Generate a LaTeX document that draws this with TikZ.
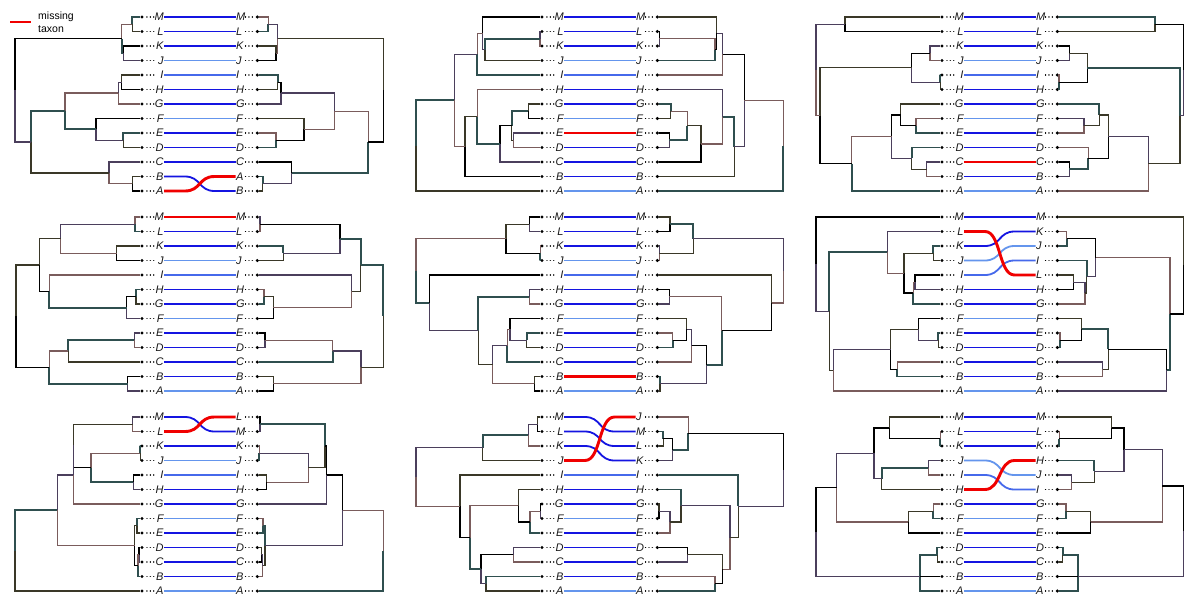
\documentclass[tikz,border=0pt]{standalone}
\usepackage{fontspec}
\setsansfont{Liberation Sans}
\usepackage{tikz}
\usetikzlibrary{calc}
\definecolor{slateDark}{RGB}{47,79,79}
\definecolor{rosyDark}{RGB}{122,92,92}
\definecolor{plumDark}{RGB}{75,63,92}
\definecolor{oliveDark}{RGB}{58,56,40}
\definecolor{linkBlue}{RGB}{20,20,225}
\definecolor{linkCorn}{RGB}{100,149,237}
\definecolor{linkMid}{RGB}{70,105,235}
\definecolor{missRed}{RGB}{240,0,0}
\colorlet{lnkM}{linkBlue}\colorlet{lnkL}{linkBlue}\colorlet{lnkK}{linkBlue}
\colorlet{lnkJ}{linkCorn}\colorlet{lnkI}{linkMid}\colorlet{lnkH}{linkBlue}
\colorlet{lnkG}{linkBlue}\colorlet{lnkF}{linkCorn}\colorlet{lnkE}{linkBlue}
\colorlet{lnkD}{linkBlue}\colorlet{lnkC}{linkBlue}\colorlet{lnkB}{linkBlue}
\colorlet{lnkA}{linkCorn}

\newcount\brc
% one bifurcation: name, x, first child, second child
\newcommand\cl[4]{%
  \path (\ox+#2,0) coordinate (tmpx) ($(\pp#3)!.5!(\pp#4)$) coordinate (tmpm);
  \coordinate (\pp#1) at (tmpx |- tmpm);
  \pgfmathtruncatemacro\bca{mod(\the\brc,5)}%
  \pgfmathtruncatemacro\bcb{mod(\the\brc+3,5)}%
  \global\advance\brc by 1
  \draw[br\bca] (\pp#3) -| (\pp#1);
  \draw[br\bcb] (\pp#1) |- (\pp#4);
}
% three children
\newcommand\clt[5]{%
  \path (\ox+#2,0) coordinate (tmpx) (\pp#4) coordinate (tmpb);
  \coordinate (\pp#1) at (tmpx |- tmpb);
  \draw[br0] (\pp#3) -| (\pp#1) |- (\pp#5);
  \draw[br1] (\pp#1) -- (\pp#4);
}
\newcommand\lnk[2]{%
  \draw[#2] (\pp lt#1.east) -- ++(21,0) .. controls +(16,0) and +(-16,0)
    .. ([xshift=-21pt]\pp rt#1.west) -- (\pp rt#1.west);
}
% prefix, x offset, y offset, right order, missing taxon
\newcommand\panel[5]{%
  \def\pp{#1}\def\ox{#2}\def\oy{#3}\def\miss{#5}%
  \foreach \t [count=\k from 0] in {M,L,K,J,I,H,G,F,E,D,C,B,A}{
    \node[leaf] (\pp l\t) at (\ox+142,\oy+17+14.5*\k) {};
    \node[taxl,align=right,anchor=east] (\pp lt\t) at (\ox+164,\oy+17+14.5*\k) {\t};
    \draw[tipdots] (\pp l\t) -- (\pp lt\t);
  }
  \foreach \t [count=\k from 0] in {#4}{
    \node[leaf] (\pp r\t) at (\ox+257.3,\oy+17+14.5*\k) {};
    \node[taxl,align=left,anchor=west] (\pp rt\t) at (\ox+235.5,\oy+17+14.5*\k) {\t};
    \draw[tipdots] (\pp r\t) -- (\pp rt\t);
  }
  \foreach \t in {M,L,K,J,I,H,G,F,E,D,C,B,A}{
    \ifx\t\miss\else\lnk{\t}{link,draw=lnk\t}\fi
  }
  \lnk{#5}{miss}
}

\begin{document}
\begin{tikzpicture}[x=1pt,y=-1pt,
  leaf/.style={circle,fill=black,inner sep=0pt,minimum size=3.4pt},
  taxl/.style={font=\sffamily\itshape\fontsize{11}{13}\selectfont,text=black!90,
               inner sep=0.3pt,text width=9pt,text height=7.9pt,text depth=0pt},
  tipdots/.style={line cap=round,dash pattern=on 0.1pt off 3.3pt,dash phase=0.4pt,line width=1.3pt},
  link/.style={line width=1.8pt},
  miss/.style={line width=2.9pt,draw=missRed},
  br0/.style={line width=1.8pt,draw=slateDark},
  br1/.style={line width=1.3pt,draw=black},
  br2/.style={line width=1.3pt,draw=rosyDark},
  br3/.style={line width=1.3pt,draw=oliveDark},
  br4/.style={line width=1.3pt,draw=plumDark},
  legtext/.style={font=\sffamily\fontsize{10.5}{13}\selectfont,align=left,inner sep=0pt}
]
  \path[use as bounding box,fill=white] (0,0) rectangle (1200,600);

  \coordinate (legA) at (10,22);
  \coordinate (legB) at (31,22);
  \draw[miss] (legA) -- (legB);
  \node[legtext,anchor=west] (leg) at (38,22.5) {missing\\taxon};

  % panel 1
  \panel{p1}{0}{0}{M,L,K,J,I,H,G,F,E,D,C,A,B}{A}
  \cl{lML}{132.3}{lM}{lL}
  \cl{lKJ}{123.3}{lK}{lJ}
  \cl{lMJ}{121.7}{lML}{lKJ}
  \cl{lIH}{121.7}{lI}{lH}
  \cl{lIG}{118.3}{lIH}{lG}
  \cl{lED}{123.3}{lE}{lD}
  \cl{lFD}{96}{lF}{lED}
  \cl{lID}{65}{lIG}{lFD}
  \cl{lBA}{132.3}{lB}{lA}
  \cl{lCA}{109}{lC}{lBA}
  \cl{lIA}{31}{lID}{lCA}
  \cl{lroot}{15}{lMJ}{lIA}
  \cl{rML}{268.3}{rM}{rL}
  \cl{rKJ}{276}{rK}{rJ}
  \cl{rMJ}{277.7}{rML}{rKJ}
  \cl{rIH}{277.7}{rI}{rH}
  \cl{rIG}{281}{rIH}{rG}
  \cl{rED}{276}{rE}{rD}
  \cl{rFD}{304}{rF}{rED}
  \cl{rID}{334.3}{rIG}{rFD}
  \cl{rAB}{262.7}{rA}{rB}
  \cl{rCB}{291.7}{rC}{rAB}
  \cl{rIB}{368.3}{rID}{rCB}
  \cl{rroot}{383.3}{rMJ}{rIB}

  % panel 2
  \panel{p2}{400}{0}{M,L,K,J,I,H,G,F,E,D,C,B,A}{E}
  \cl{lLK}{140}{lL}{lK}
  \cl{lLJ}{85}{lLK}{lJ}
  \cl{lMJ}{82.7}{lM}{lLJ}
  \cl{lMI}{77.3}{lMJ}{lI}
  \cl{lGF}{128.3}{lG}{lF}
  \cl{lED}{113.3}{lE}{lD}
  \cl{lGD}{111.7}{lGF}{lED}
  \cl{lGC}{100}{lGD}{lC}
  \cl{lHC}{77.3}{lH}{lGC}
  \cl{lHB}{65}{lHC}{lB}
  \cl{lMB}{54.3}{lMI}{lHB}
  \cl{lroot}{16}{lMB}{lA}
  \cl{rLK}{259.3}{rL}{rK}
  \cl{rLJ}{315}{rLK}{rJ}
  \cl{rMJ}{316.7}{rM}{rLJ}
  \cl{rMI}{322.7}{rMJ}{rI}
  \cl{rGF}{270.7}{rG}{rF}
  \cl{rED}{269.3}{rE}{rD}
  \cl{rGD}{287.3}{rGF}{rED}
  \cl{rGC}{301}{rGD}{rC}
  \cl{rHC}{322.7}{rH}{rGC}
  \cl{rHB}{334.3}{rHC}{rB}
  \cl{rMB}{344.3}{rMI}{rHB}
  \cl{rroot}{383.3}{rMB}{rA}

  % panel 3
  \panel{p3}{800}{0}{M,L,K,J,I,H,G,F,E,D,C,B,A}{C}
  \cl{lML}{45}{lM}{lL}
  \cl{lKJ}{130}{lK}{lJ}
  \cl{lIH}{140.3}{lI}{lH}
  \cl{lKH}{111.7}{lKJ}{lIH}
  \cl{lFE}{116}{lF}{lE}
  \cl{lGE}{100.7}{lG}{lFE}
  \cl{lCB}{126.7}{lC}{lB}
  \cl{lDB}{111.7}{lD}{lCB}
  \cl{lGB}{91.7}{lGE}{lDB}
  \cl{lGA}{51.7}{lGB}{lA}
  \cl{lKA}{20}{lKH}{lGA}
  \cl{lroot}{16}{lML}{lKA}
  \cl{rML}{355}{rM}{rL}
  \cl{rKJ}{269.3}{rK}{rJ}
  \cl{rIH}{259}{rI}{rH}
  \cl{rKH}{287.3}{rKJ}{rIH}
  \cl{rFE}{284}{rF}{rE}
  \cl{rGE}{299.3}{rG}{rFE}
  \cl{rCB}{269.3}{rC}{rB}
  \cl{rDB}{288.3}{rD}{rCB}
  \cl{rGB}{308.3}{rGE}{rDB}
  \cl{rGA}{348.3}{rGB}{rA}
  \cl{rKA}{380}{rKH}{rGA}
  \cl{rroot}{383.3}{rML}{rKA}

  % panel 4
  \panel{p4}{0}{200}{M,L,K,J,I,H,G,F,E,D,C,B,A}{M}
  \cl{lML}{135}{lM}{lL}
  \cl{lKJ}{116.7}{lK}{lJ}
  \cl{lMJ}{60.7}{lML}{lKJ}
  \cl{lHG}{136}{lH}{lG}
  \cl{lHF}{126.7}{lHG}{lF}
  \cl{lIF}{49.3}{lI}{lHF}
  \cl{lMF}{39.3}{lMJ}{lIF}
  \cl{lED}{134.3}{lE}{lD}
  \cl{lEC}{68.3}{lED}{lC}
  \cl{lBA}{127.7}{lB}{lA}
  \cl{lEA}{49.3}{lEC}{lBA}
  \cl{lroot}{16}{lMF}{lEA}
  \cl{rML}{260}{rM}{rL}
  \cl{rKJ}{283.3}{rK}{rJ}
  \cl{rMJ}{340}{rML}{rKJ}
  \cl{rHG}{264}{rH}{rG}
  \cl{rHF}{273.3}{rHG}{rF}
  \cl{rIF}{351.7}{rI}{rHF}
  \cl{rMF}{360.7}{rMJ}{rIF}
  \cl{rED}{265}{rE}{rD}
  \cl{rEC}{332.7}{rED}{rC}
  \cl{rBA}{273.3}{rB}{rA}
  \cl{rEA}{361}{rEC}{rBA}
  \cl{rroot}{383.3}{rMF}{rEA}

  % panel 5
  \panel{p5}{400}{200}{M,L,K,J,I,H,G,F,E,D,C,B,A}{B}
  \cl{lML}{129.3}{lM}{lL}
  \cl{lKJ}{140.3}{lK}{lJ}
  \cl{lMJ}{106}{lML}{lKJ}
  \cl{lHG}{129.3}{lH}{lG}
  \cl{lED}{126.7}{lE}{lD}
  \cl{lFD}{110}{lF}{lED}
  \cl{lFC}{107.3}{lFD}{lC}
  \cl{lBA}{134.3}{lB}{lA}
  \cl{lFA}{92.7}{lFC}{lBA}
  \cl{lHA}{78.3}{lHG}{lFA}
  \cl{lIA}{29.3}{lI}{lHA}
  \cl{lroot}{16}{lMJ}{lIA}
  \cl{rML}{270}{rM}{rL}
  \cl{rKJ}{259.3}{rK}{rJ}
  \cl{rMJ}{293.3}{rML}{rKJ}
  \cl{rHG}{269.3}{rH}{rG}
  \cl{rED}{272.7}{rE}{rD}
  \cl{rFD}{286.7}{rF}{rED}
  \cl{rFC}{291.7}{rFD}{rC}
  \cl{rBA}{260}{rB}{rA}
  \cl{rFA}{306.7}{rFC}{rBA}
  \cl{rHA}{321.7}{rHG}{rFA}
  \cl{rIA}{371.7}{rI}{rHA}
  \cl{rroot}{383.3}{rMJ}{rIA}

  % panel 6
  \panel{p6}{800}{200}{M,K,J,I,L,H,G,F,E,D,C,B,A}{L}
  \cl{lKJ}{133.3}{lK}{lJ}
  \cl{lIH}{115}{lI}{lH}
  \cl{lIG}{113.3}{lIH}{lG}
  \cl{lKG}{104}{lKJ}{lIG}
  \cl{lLG}{87.3}{lL}{lKG}
  \cl{lED}{138.3}{lE}{lD}
  \cl{lFD}{118.3}{lF}{lED}
  \cl{lCB}{97.3}{lC}{lB}
  \cl{lFB}{90.7}{lFD}{lCB}
  \cl{lFA}{33.3}{lFB}{lA}
  \cl{lLA}{29.3}{lLG}{lFA}
  \cl{lroot}{16}{lM}{lLA}
  \cl{rKJ}{266.7}{rK}{rJ}
  \cl{rLH}{273.3}{rL}{rH}
  \cl{rLG}{285}{rLH}{rG}
  \cl{rIG}{286.7}{rI}{rLG}
  \cl{rKG}{295.7}{rKJ}{rIG}
  \cl{rED}{260}{rE}{rD}
  \cl{rFD}{281.7}{rF}{rED}
  \cl{rCB}{302.7}{rC}{rB}
  \cl{rFB}{308.3}{rFD}{rCB}
  \cl{rFA}{366.7}{rFB}{rA}
  \cl{rKA}{370}{rKG}{rFA}
  \cl{rroot}{383.3}{rM}{rKA}

  % panel 7
  \panel{p7}{0}{400}{L,M,K,J,I,H,G,F,E,D,C,B,A}{L}
  \cl{lML}{132.7}{lM}{lL}
  \cl{lKJ}{140.3}{lK}{lJ}
  \cl{lIH}{133.3}{lI}{lH}
  \cl{lKH}{91}{lKJ}{lIH}
  \cl{lMH}{73.7}{lML}{lKH}
  \cl{lMG}{73.3}{lMH}{lG}
  \cl{lFE}{137}{lF}{lE}
  \cl{lDC}{139}{lD}{lC}
  \cl{lDB}{138}{lDC}{lB}
  \cl{lFB}{134.7}{lFE}{lDB}
  \cl{lMB}{57.3}{lMG}{lFB}
  \cl{lroot}{15}{lMB}{lA}
  \cl{rLM}{260}{rL}{rM}
  \cl{rKJ}{259.3}{rK}{rJ}
  \cl{rIH}{266.7}{rI}{rH}
  \cl{rKH}{308.3}{rKJ}{rIH}
  \cl{rLH}{325}{rLM}{rKH}
  \cl{rLG}{326.7}{rLH}{rG}
  \cl{rFE}{263}{rF}{rE}
  \cl{rDC}{261.3}{rD}{rC}
  \cl{rDB}{262.7}{rDC}{rB}
  \cl{rFB}{265}{rFE}{rDB}
  \cl{rLB}{342.7}{rLG}{rFB}
  \cl{rroot}{383.3}{rLB}{rA}

  % panel 8
  \panel{p8}{400}{400}{J,M,L,K,I,H,G,F,E,D,C,B,A}{J}
  \cl{lML}{137.7}{lM}{lL}
  \cl{lMK}{128.3}{lML}{lK}
  \cl{lMJ}{82.7}{lMK}{lJ}
  \cl{lGF}{140.3}{lG}{lF}
  \cl{lGE}{130}{lGF}{lE}
  \cl{lHE}{118.3}{lH}{lGE}
  \cl{lDC}{113.3}{lD}{lC}
  \cl{lBA}{86}{lB}{lA}
  \cl{lDA}{81}{lDC}{lBA}
  \cl{lHA}{70}{lHE}{lDA}
  \cl{lIA}{60}{lI}{lHA}
  \cl{lroot}{16}{lMJ}{lIA}
  \cl{rML}{263.3}{rM}{rL}
  \cl{rMK}{272.7}{rML}{rK}
  \cl{rJK}{288.3}{rJ}{rMK}
  \cl{rGF}{259}{rG}{rF}
  \cl{rGE}{270}{rGF}{rE}
  \cl{rHE}{281}{rH}{rGE}
  \cl{rDC}{287.3}{rD}{rC}
  \cl{rBA}{315}{rB}{rA}
  \cl{rDA}{322.7}{rDC}{rBA}
  \cl{rHA}{330}{rHE}{rDA}
  \cl{rIA}{338.3}{rI}{rHA}
  \cl{rroot}{383.3}{rJK}{rIA}

  % panel 9
  \panel{p9}{800}{400}{M,L,K,H,J,I,G,F,E,D,C,B,A}{H}
  \cl{lLK}{140.3}{lL}{lK}
  \cl{lMK}{89.3}{lM}{lLK}
  \cl{lJI}{128.3}{lJ}{lI}
  \cl{lJH}{81.7}{lJI}{lH}
  \cl{lMH}{74}{lMK}{lJH}
  \cl{lGF}{133.3}{lG}{lF}
  \cl{lGE}{108.3}{lGF}{lE}
  \cl{lME}{36.7}{lMH}{lGE}
  \cl{lDC}{137.3}{lD}{lC}
  \clt{lDA}{120}{lDC}{lB}{lA}
  \cl{lroot}{16}{lME}{lDA}
  \cl{rLK}{259.3}{rL}{rK}
  \cl{rMK}{311.7}{rM}{rLK}
  \cl{rJI}{271.7}{rJ}{rI}
  \cl{rHI}{294.3}{rH}{rJI}
  \cl{rMI}{324}{rMK}{rHI}
  \cl{rGF}{266}{rG}{rF}
  \cl{rGE}{290.7}{rGF}{rE}
  \cl{rME}{362.3}{rMI}{rGE}
  \cl{rDC}{262.7}{rD}{rC}
  \clt{rDA}{278.3}{rDC}{rB}{rA}
  \cl{rroot}{383.3}{rME}{rDA}
\end{tikzpicture}
\end{document}
